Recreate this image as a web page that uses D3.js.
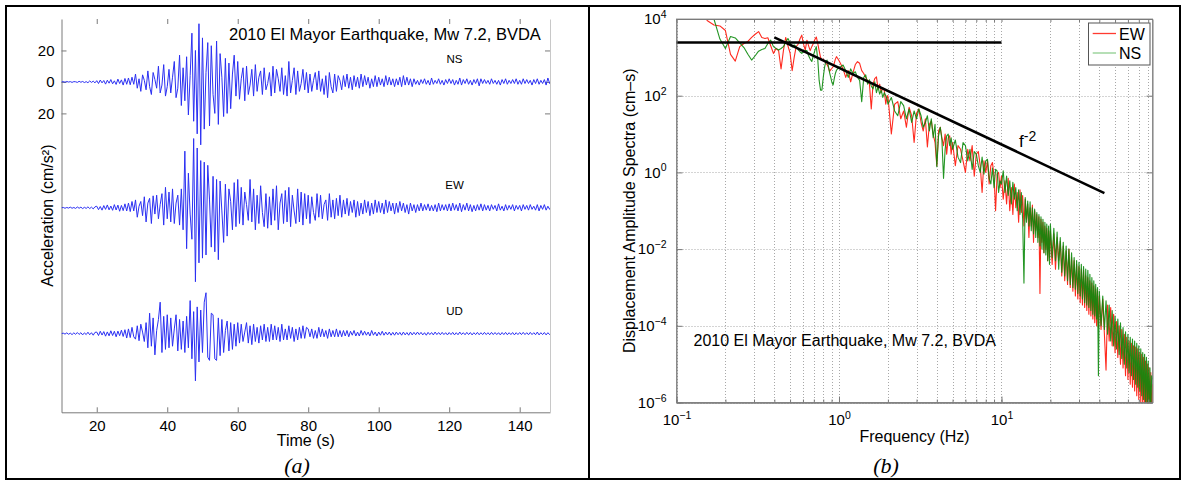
<!DOCTYPE html>
<html>
<head>
<meta charset="utf-8">
<script src="https://cdn.jsdelivr.net/npm/d3@7/dist/d3.min.js"></script>
<style>
  body { margin: 0; background: #fff; }
</style>
</head>
<body>
<div id="chart"></div>
<script>
const FONT = '"Liberation Sans", Arial, Helvetica, sans-serif';

// ---- panel (a): acceleration records, samples every 0.5 s from t = 10 s ----
const traceStart = 10;
const sampleStep = 0.5;
const channelNames = ['NS', 'EW', 'UD'];
const timeTicks = [20, 40, 60, 80, 100, 120, 140];
const accelTicks = [20, 0, -20];

const nsAccel = [
  0, 0.2, -0.2, 0.3, -0.1, 0.2, -0.3, 0.2, 0.1, -0.3, 0.4, -0.2, 0.3, -0.4, 0.2, -0.5, 0.6, -0.3, 0.5, -0.6,
  0.8, -1, 1.2, -0.6, 0.9, -1.4, 1.1, -0.8, 1.5, -1.2, 0.7, -1.6, 1.8, -1, 1.3, -2, 2.2, -1.5, 2.5, -1.8,
  3, -1.5, 5, -4, 2, -6, 4.5, 1, -5, 7, -3, -8, 6, 1.5, -4, 10, -7, -2, 11, -9,
  -3, 8, -7, 3, 13, -10, -4, 17, -15, 9, -12, 16, -21, 4, 31, -25, 20, -33, 37, -40,
  28, -30, 6, 25, -28, 23, -8, -20, 26, -27, 18, 3, -22, 15, -20, 12, -17, 5, 17, -9,
  13, -11, 2, 9, -12, 10, -8, -2, 8, -9, 11, -6, 3, 7, -8, 9, -5, -1, 6, -9,
  10, -7, 8, 2, -6, 9, -8, 4, -9, 13, -7, 1, 9, -8, 7, -6, -1, 8, -5, 6,
  -7, 5, -6, 1, 6, -5, 7, -6, 2, -8, 4, -10, 6, -3, -7, 5, -6, 4, 1, -5,
  4, -3, 5, -4, 3, -5, 4, -3, 3, -4, 5, -3, 4, -2, 3, -4, 2, -3, 4, -3,
  3, -2, 2, -3, 4, -2, 3, -2, 2, -3, 2, -2, 3, -3, 4, -2, 3, -2, 2, -3,
  2, -1.5, 1, -2, 1.5, -1, 2, -1.5, 1, -2, 2.5, -1.5, 1, -1, 2, -1.5, 1, -2, 1.5, -1,
  2, -1, 1.5, -2, 1, -1.5, 2.5, -2, 1.5, -1, 2, -1.5, 1, -2, 1.5, -1, 2, -2.5, 2, -1,
  1.5, -1, 1, -1.5, 2, -1, 1, -1.5, 1, -2, 1.5, -1, 2, -1.5, 1, -1, 1.5, -1, 2, -1.5,
  1, -1.5, 2, -1, 1.5, -1, 1, -2, 1.5, -1, 2, -1.5, 1, -1, 1.5, -2, 2.5, -1, 1.5, -1,
  0.5
];

const ewAccel = [
  0, 0.2, -0.3, 0.2, -0.2, 0.4, -0.3, 0.2, -0.4, 0.5, -0.3, 0.4, -0.5, 0.3, -0.4, 0.6, -0.5, 0.4, -0.7, 0.6,
  1, -1.2, 0.8, -1.5, 1.4, -1, 1.8, -1.3, 1.1, -1.6, 2, -1.4, 1.7, -2.2, 1.5, -1.8, 2.5, -2, 3, -2.4,
  4, -2, 5, -6, 1, 4, -5, 7, -9, 3, 6, -10, 7.6, -4, 8, -7, 2, 9, -11, 13,
  -7, 10, -9, 12, -10, 3, 8, -11, 12, -14, 36, -26, 22, -4, -20, 44, -47, 38, -35, 30,
  -32, 29, -30, 27, 5, -25, 20, -28, 18, -33, 17, -2, -22, 15, -18, 12, 4, -14, 16, -12,
  18, -10, 13, -11, 10, 2, -8, 18, -9, 12, -14, 8, -10, 14, -3, -12, 9, -13, 7, -11,
  12, -8, 14, -14, 3, 9, -10, 11, -9, 13, -12, 8, -2, -10, 12, -9, 10, -11, 9, -7,
  8, -10, 7, -3, -8, 9, -6, 8, -7, 2, 5, -8, 9, -6, 5, -7, 6, -5, 8, -6,
  5, -4, 6, -5, 4, -3, 5, -6, 4, -5, 3, -4, 5, -3, 4, -5, 3, -4, 5, -3,
  4, -3, 3, -4, 5, -3, 4, -2, 3, -4, 3, -3, 4, -2, 3, -3, 2, -4, 3, -2,
  2, -3, 2, -2, 3, -2, 2, -1.5, 2.5, -2, 1.5, -2, 2, -2.5, 3, -2, 2, -1.5, 2, -2,
  2.5, -2, 3, -1.5, 2, -2, 3, -2.5, 2, -1.5, 3, -2, 2, -2.5, 1.5, -2, 2, -1.5, 2.5, -2,
  2, -1.5, 1.5, -2, 2, -1, 1.5, -2, 2.5, -1.5, 1, -2, 2, -1.5, 1.5, -1, 2, -2, 1.5, -1,
  1.5, -2, 2, -1, 1.5, -1.5, 2, -1, 1, -1.5, 2, -2, 1.5, -1, 2, -1.5, 1, -1, 1.5, -1,
  0.5
];

const udAccel = [
  0, 0.3, -0.3, 0.5, -0.4, 0.3, -0.6, 0.5, -0.4, 0.7, -0.5, 0.6, -0.8, 0.5, -0.6, 0.9, -0.7, 0.6, -1, 0.8,
  1, -1.2, 1.5, -0.9, 1.3, -1.6, 1.1, -1.4, 1.8, -1.2, 1.5, -2, 1.6, -1.3, 2.2, -1.8, 2.5, -2.8, 3, -2.5,
  4, -2, -3.5, 5, -4.5, 6, 1, -5, 7, -9, 13, -8, 10, -13.5, 2, 9, 20, -12, 11, -10,
  12, -9, 10, -8, 3, 12, -11, 9, -10, 8, -12, 11, -9, 21, -16, 14, -30, 17, -18, 15,
  -12, 20, 26, -15, -17, 13, 12, -16, -17, 10, -14, 9, -12, 2, 8, -11, 7, -10, 6, -8,
  7, -6, 6, -5, 1, 7, -6, 5, -7, 6, -5, 4, -6, 5, -4, 6, -5, 4, -5, 6,
  -4, 5, -4, 4, -5, 6, -4, 3, -4, 5, -3, 4, -5, 3, -4, 4, -3, 5, -3, 4,
  3, -2, 3, -3, 2, -3, 4, -2, 3, -2, 2, -3, 3, -2, 2, -2, 3, -2, 2, -2,
  2, -1.5, 2, -2, 1.5, -1, 2, -1.5, 1, -1.5, 2, -1, 1.5, -1, 1, -1.5, 2, -1, 1, -1.5,
  1, -1, 1.5, -1, 1, -0.8, 1, -1, 0.8, -1, 1, -0.7, 0.8, -1, 1, -0.8, 0.7, -1, 1, -0.8,
  0.8, -0.7, 1, -0.6, 0.8, -0.8, 0.6, -1, 0.8, -0.6, 0.7, -0.8, 1, -0.6, 0.7, -0.7, 0.8, -0.6, 0.6, -0.8,
  0.7, -0.6, 0.8, -0.8, 0.6, -0.7, 1, -0.6, 0.6, -0.7, 0.8, -0.6, 0.7, -0.8, 0.6, -0.6, 0.8, -0.7, 0.6, -0.6,
  0.8, -0.6, 0.6, -0.7, 0.8, -0.6, 0.7, -0.6, 0.6, -0.8, 0.7, -0.6, 0.8, -0.7, 0.6, -0.6, 0.7, -0.8, 0.6, -0.6,
  0.7, -0.6, 0.8, -0.6, 0.6, -0.7, 0.8, -0.6, 0.6, -0.7, 1, -0.8, 0.6, -0.6, 0.7, -0.8, 0.6, -0.6, 0.8, -0.7,
  0.3
];

// ---- panel (b): displacement amplitude spectra ----
const specFreq = [
  0.12, 0.14, 0.155, 0.17, 0.185, 0.2, 0.215, 0.23, 0.245, 0.26,
  0.275, 0.29, 0.305, 0.32, 0.335, 0.35, 0.365, 0.38, 0.395, 0.41,
  0.425, 0.44, 0.455, 0.47, 0.485, 0.5, 0.515, 0.53, 0.545, 0.56,
  0.575, 0.59, 0.605, 0.62, 0.635, 0.65, 0.665, 0.68, 0.695, 0.71,
  0.725, 0.74, 0.755, 0.77, 0.785, 0.8, 0.815, 0.83, 0.845, 0.86,
  0.875, 0.89, 0.905, 0.92, 0.935, 0.95, 0.965, 0.98, 0.995,
  1.02, 1.06, 1.1, 1.14, 1.18, 1.22, 1.26, 1.3, 1.34, 1.38, 1.42, 1.46, 1.5,
  1.54, 1.58, 1.62, 1.66, 1.7, 1.74, 1.78, 1.82, 1.86, 1.9, 1.94, 1.98,
  2, 2.1, 2.2, 2.3, 2.4, 2.5, 2.6, 2.7, 2.8, 2.9, 3, 3.1, 3.2, 3.3, 3.4,
  3.5, 3.6, 3.7, 3.8, 3.9, 4, 4.1, 4.2, 4.3, 4.4, 4.5, 4.6, 4.7, 4.8, 4.9,
  5, 5.2, 5.4, 5.6, 5.8, 6, 6.2, 6.4, 6.6, 6.8, 7, 7.2, 7.4, 7.6, 7.8,
  8, 8.2, 8.4, 8.6, 8.8, 9, 9.2, 9.4, 9.6, 9.8,
  10, 10.25, 10.5, 10.75, 11, 11.25, 11.5, 11.75, 12, 12.25, 12.5, 12.75, 13, 13.25, 13.5, 13.75,
  14, 14.25, 14.5, 14.75, 15, 15.25, 15.5, 15.75, 16, 16.25, 16.5, 16.75, 17, 17.25, 17.5, 17.75,
  18, 18.25, 18.5, 18.75, 19, 19.25, 19.5, 19.75,
  20, 20.5, 21, 21.5, 22, 22.5, 23, 23.5, 24, 24.5, 25, 25.5, 26, 26.5, 27, 27.5, 28, 28.5, 29, 29.5,
  30, 30.5, 31, 31.5, 32, 32.5, 33, 33.5, 34, 34.5, 35, 35.5, 36, 36.5, 37, 37.5, 38, 38.5, 39, 39.5,
  40, 41, 42, 43, 44, 45, 46, 47, 48, 49, 50, 51, 52, 53, 54, 55, 56, 57, 58, 59,
  60, 61, 62, 63, 64, 65, 66, 67, 68, 69, 70, 71, 72, 73, 74, 75, 76, 77, 78, 79,
  80, 81, 82, 83, 84, 85
];

const ewSpec = [
  3e4, 1.5e4, 9000, 7000, 6600, 5000, 1200, 800, 1900, 2300,
  2600, 3300, 4000, 4700, 3300, 3100, 3250, 2000, 1270, 1700,
  1500, 500, 1500, 3300, 2000, 1300, 450, 1000, 1900, 2200,
  3000, 3800, 2200, 1550, 2800, 2000, 1500, 1900, 2300, 2900,
  3400, 2300, 1500, 1000, 850, 900, 780, 700, 650, 550,
  430, 480, 520, 570, 700, 900, 1040, 950, 850,
  700, 500, 300, 450, 230, 400, 650, 770, 700, 450, 380, 300, 250,
  200, 45, 200, 280, 310, 150, 200, 120, 160, 140, 60, 100,
  100, 10, 60, 70, 25, 40, 15, 50, 30, 6, 35, 45, 20, 12, 25,
  4.6, 18, 22, 10, 6, 1.5, 12, 15, 8, 5, 10, 3, 8, 9, 3,
  6, 1.5, 5, 4, 2, 1, 4, 2, 5, 0.8, 3, 3.5, 1.5, 0.3, 2,
  1, 2, 0.5, 1.5, 1.8, 0.8, 0.1, 0.9, 1, 0.4,
  0.8, 0.2, 0.6, 0.15, 0.7, 0.1, 0.4, 0.08, 0.5, 0.12, 0.3, 0.05, 0.35, 0.09, 0.25, 0.04,
  0.2, 0.06, 0.15, 0.02, 0.12, 0.04, 0.14, 0.015, 0.1, 0.03, 0.08, 0.02, 0.07, 0.0007, 0.06, 0.015,
  0.05, 0.008, 0.04, 0.01, 0.035, 0.005, 0.03, 0.006,
  0.03, 0.004, 0.025, 0.003, 0.02, 0.005, 0.016, 0.002, 0.012, 0.0015, 0.009, 0.0012, 0.01, 0.001, 0.006, 0.0008, 0.005, 0.0006, 0.004, 0.0005,
  0.0035, 0.0004, 0.003, 0.00035, 0.0028, 0.0003, 0.002, 0.00025, 0.0018, 0.0002, 0.0015, 0.00018, 0.0013, 0.00015, 0.0011, 0.00012, 0.0009, 0.0001, 0.0008, 0.00009,
  6e-4, 8e-5, 5e-4, 6e-5, 7e-6, 3.5e-4, 4e-5, 3e-4, 3e-5, 2e-4, 2e-5, 1.3e-4, 1.5e-5, 1e-4, 1e-5, 8e-5, 8e-6, 6e-5, 5e-6, 5e-5,
  4e-6, 4e-5, 3e-6, 3.5e-5, 2.5e-6, 3e-5, 2e-6, 2.8e-5, 1.5e-6, 2.5e-5, 1.2e-6, 2e-5, 1e-6, 1.8e-5, 8e-7, 1.5e-5, 7e-7, 1.2e-5, 6e-7, 1e-5,
  5e-7, 8e-6, 4e-7, 6e-6, 3e-7, 3e-6
];

const nsSpec = [
  8e4, 4e4, 2e4, 1e4, 3000, 1700, 3500, 3200, 2400, 1800,
  1200, 850, 1100, 1450, 1600, 1710, 2300, 2800, 1900, 1700,
  1550, 1700, 1900, 2500, 3100, 2400, 1850, 2100, 1900, 1600,
  1400, 1270, 1400, 1500, 1500, 1100, 900, 780, 1100, 1500,
  1900, 900, 250, 140, 140, 300, 550, 800, 850, 600,
  400, 300, 220, 190, 280, 380, 460, 500, 560,
  560, 630, 450, 300, 500, 380, 420, 300, 250, 70, 300, 350, 200,
  260, 180, 150, 230, 120, 170, 110, 140, 90, 120, 100, 80,
  60, 90, 40, 30, 70, 55, 25, 45, 20, 40, 25, 45, 30, 15, 20,
  30, 12, 25, 8, 18, 1.4, 9, 15, 7, 0.7, 4, 9, 10, 5, 8,
  4, 7, 2.5, 1.8, 6, 5, 2, 4, 1.2, 3.5, 3, 1.5, 1, 2.5, 0.9,
  2, 2.2, 0.7, 0.5, 1.3, 0.4, 1.2, 1.1, 0.3, 0.6,
  0.5, 1.1, 0.3, 0.8, 0.25, 0.6, 0.15, 0.55, 0.2, 0.4, 0.1, 0.35, 0.08, 0.3, 0.06, 0.0013,
  0.22, 0.05, 0.18, 0.04, 0.17, 0.03, 0.12, 0.025, 0.11, 0.02, 0.09, 0.015, 0.08, 0.012, 0.07, 0.01,
  0.06, 0.008, 0.05, 0.007, 0.045, 0.005, 0.04, 0.004,
  0.045, 0.006, 0.035, 0.005, 0.028, 0.003, 0.02, 0.0025, 0.015, 0.002, 0.012, 0.0015, 0.01, 0.0012, 0.008, 0.001, 0.006, 0.0009, 0.005, 0.0007,
  0.0045, 0.0006, 0.004, 0.0005, 0.0035, 0.0004, 0.003, 0.00035, 0.0028, 0.0003, 0.0022, 0.00025, 0.0018, 0.0002, 0.0015, 0.00018, 0.0012, 0.00015, 0.001, 0.000005,
  8e-4, 1e-4, 6e-4, 8e-5, 4.5e-4, 6e-5, 3.5e-4, 4e-5, 2.5e-4, 3e-5, 1.8e-4, 2.5e-5, 1.5e-4, 1.8e-5, 1.2e-4, 1.4e-5, 9e-5, 1e-5, 7e-5, 8e-6,
  6e-5, 6e-6, 5e-5, 5e-6, 4.5e-5, 4e-6, 4e-5, 3e-6, 3.5e-5, 2.5e-6, 3e-5, 2e-6, 2.5e-5, 1.5e-6, 2e-5, 1.2e-6, 1.8e-5, 1e-6, 1.5e-5, 8e-7,
  1.2e-5, 6e-7, 8e-6, 5e-7, 5e-6, 4e-6
];

const plateauLevel = 2450;          // flat low-frequency level (cm-s)
const plateauFreq = [0.1, 10];
const slopeLine = [[0.4, 3330], [43, 0.29]];   // f^-2 reference
const freqTicks = [0.1, 1, 10];
const ampTicks = [1e4, 1e2, 1, 1e-2, 1e-4, 1e-6];
const specNames = ['EW', 'NS'];

const svg = d3.select('#chart').append('svg')
  .attr('width', 1183)
  .attr('height', 483)
  .style('font-family', FONT);

// outer figure frame and divider
svg.append('rect')
  .attr('x', 6).attr('y', 6).attr('width', 1174).attr('height', 473)
  .attr('fill', 'none').attr('stroke', '#000').attr('stroke-width', 2);
svg.append('line')
  .attr('x1', 589).attr('x2', 589).attr('y1', 6).attr('y2', 479)
  .attr('stroke', '#000').attr('stroke-width', 2);

function styleAxis(g, size) {
  g.attr('font-family', FONT).attr('font-size', size);
  g.select('.domain').attr('stroke', '#7a7a7a');
  g.selectAll('.tick line').attr('stroke', '#7a7a7a');
  g.selectAll('.tick text').attr('fill', '#000');
}

function powerLabels(g) {
  g.selectAll('.tick text').each(function (d) {
    const e = Math.round(Math.log10(d));
    const t = d3.select(this).text('10');
    t.append('tspan')
      .attr('dy', '-0.6em')
      .attr('font-size', '10.5px')
      .text(e < 0 ? '\u2212' + (-e) : e);
  });
}

// ================= panel (a) =================
const xT = d3.scaleLinear().domain([10, 148.6]).range([61.5, 550]);
const yA = d3.scaleLinear().domain([-210, 40]).range([412.3, 19]);
const traceOffsets = [0, -80, -160];

const pa = svg.append('g');
pa.append('clipPath').attr('id', 'clipA').append('rect')
  .attr('x', xT.range()[0]).attr('y', yA.range()[1])
  .attr('width', xT.range()[1] - xT.range()[0])
  .attr('height', yA.range()[0] - yA.range()[1]);

pa.append('g').attr('transform', `translate(0,${yA.range()[0]})`)
  .call(d3.axisBottom(xT).tickValues(timeTicks).tickSizeInner(-5).tickSizeOuter(0).tickPadding(8))
  .call(styleAxis, 15);
pa.append('g').attr('transform', `translate(0,${yA.range()[1]})`)
  .call(d3.axisTop(xT).tickValues(timeTicks).tickSizeInner(-5).tickSizeOuter(0).tickFormat(''))
  .call(styleAxis, 15)
  .call(g => g.select('.domain').remove());
pa.append('g').attr('transform', `translate(${xT.range()[0]},0)`)
  .call(d3.axisLeft(yA).tickValues(accelTicks).tickSizeInner(-5).tickSizeOuter(0).tickPadding(7)
    .tickFormat(d => Math.abs(d)))
  .call(styleAxis, 15);
pa.append('g').attr('transform', `translate(${xT.range()[1]},0)`)
  .call(d3.axisRight(yA).tickValues(accelTicks).tickSizeInner(-5).tickSizeOuter(0).tickFormat(''))
  .call(styleAxis, 15)
  .call(g => g.select('.domain').attr('stroke', '#c8c8c8'));

[nsAccel, ewAccel, udAccel].forEach((vals, k) => {
  const line = d3.line()
    .x((d, i) => xT(traceStart + i * sampleStep))
    .y(d => yA(d + traceOffsets[k]));
  pa.append('path')
    .datum(vals)
    .attr('clip-path', 'url(#clipA)')
    .attr('fill', 'none')
    .attr('stroke', '#2b30f2')
    .attr('stroke-width', 1)
    .attr('stroke-linejoin', 'round')
    .attr('d', line);
  pa.append('text')
    .attr('x', xT(121.5))
    .attr('y', yA(traceOffsets[k] + 12))
    .attr('text-anchor', 'middle')
    .attr('font-size', '11.5px')
    .text(channelNames[k]);
});

pa.append('text')
  .attr('x', 229).attr('y', 40)
  .attr('font-size', '16.5px')
  .text('2010 El Mayor Earthquake, Mw 7.2, BVDA');

pa.append('text')
  .attr('x', (xT.range()[0] + xT.range()[1]) / 2).attr('y', 446)
  .attr('text-anchor', 'middle').attr('font-size', '16px')
  .text('Time (s)');

pa.append('text')
  .attr('transform', `translate(53,${(yA.range()[0] + yA.range()[1]) / 2}) rotate(-90)`)
  .attr('text-anchor', 'middle').attr('font-size', '16px')
  .text('Acceleration (cm/s\u00b2)');

pa.append('text')
  .attr('x', 297).attr('y', 472.5)
  .attr('text-anchor', 'middle')
  .attr('font-family', '"Liberation Serif", "Times New Roman", serif')
  .attr('font-style', 'italic').attr('font-size', '22px')
  .text('(a)');

// ================= panel (b) =================
const xF = d3.scaleLog().domain([0.1, 85]).range([676.5, 1152.5]);
const yS = d3.scaleLog().domain([1e-6, 1e4]).range([402.5, 19]);

const pb = svg.append('g');
pb.append('clipPath').attr('id', 'clipB').append('rect')
  .attr('x', xF.range()[0]).attr('y', yS.range()[1])
  .attr('width', xF.range()[1] - xF.range()[0])
  .attr('height', yS.range()[0] - yS.range()[1]);

// dotted grid
const grid = pb.append('g')
  .attr('stroke', '#a8a8a8').attr('stroke-width', 1).attr('stroke-dasharray', '1,2');
grid.selectAll('line.gx').data(xF.ticks()).enter().append('line')
  .attr('x1', d => Math.round(xF(d)) + 0.5).attr('x2', d => Math.round(xF(d)) + 0.5)
  .attr('y1', yS.range()[1]).attr('y2', yS.range()[0]);
grid.selectAll('line.gy').data(ampTicks).enter().append('line')
  .attr('y1', d => Math.round(yS(d)) + 0.5).attr('y2', d => Math.round(yS(d)) + 0.5)
  .attr('x1', xF.range()[0]).attr('x2', xF.range()[1]);

// box
pb.append('rect')
  .attr('x', xF.range()[0]).attr('y', yS.range()[1])
  .attr('width', xF.range()[1] - xF.range()[0])
  .attr('height', yS.range()[0] - yS.range()[1])
  .attr('fill', 'none').attr('stroke', '#9a9a9a');

// spectra
const specLine = d3.line().x(d => xF(d[0])).y(d => yS(d[1]));
const specColors = ['#ff2a1f', '#0b8a0b'];
[ewSpec, nsSpec].forEach((amps, k) => {
  pb.append('path')
    .datum(specFreq.map((f, i) => [f, amps[i]]))
    .attr('clip-path', 'url(#clipB)')
    .attr('fill', 'none')
    .attr('stroke', specColors[k])
    .attr('stroke-opacity', k === 1 ? 0.9 : 1)
    .attr('stroke-width', 1.1)
    .attr('stroke-linejoin', 'round')
    .attr('d', specLine);
});

// reference lines
pb.append('line')
  .attr('x1', xF(plateauFreq[0])).attr('x2', xF(plateauFreq[1]))
  .attr('y1', yS(plateauLevel)).attr('y2', yS(plateauLevel))
  .attr('stroke', '#000').attr('stroke-width', 2.5);
pb.append('path')
  .datum(slopeLine)
  .attr('fill', 'none').attr('stroke', '#000').attr('stroke-width', 2.5)
  .attr('d', specLine);

const fLabel = pb.append('text').attr('x', 1019).attr('y', 147).attr('font-size', '17px');
fLabel.append('tspan').text('f');
fLabel.append('tspan').attr('dy', '-0.45em').attr('font-size', '14px').text('-2');

// axes
pb.append('g').attr('transform', `translate(0,${yS.range()[0]})`)
  .call(d3.axisBottom(xF).tickValues(xF.ticks()).tickSizeInner(-3).tickSizeOuter(0).tickFormat(''))
  .call(styleAxis, 15);
pb.append('g').attr('transform', `translate(0,${yS.range()[0]})`)
  .call(d3.axisBottom(xF).tickValues(freqTicks).tickSizeInner(-6).tickSizeOuter(0).tickPadding(12))
  .call(styleAxis, 15)
  .call(powerLabels);
pb.append('g').attr('transform', `translate(0,${yS.range()[1]})`)
  .call(d3.axisTop(xF).tickValues(xF.ticks()).tickSizeInner(-3).tickSizeOuter(0).tickFormat(''))
  .call(styleAxis, 15);
pb.append('g').attr('transform', `translate(${xF.range()[0]},0)`)
  .call(d3.axisLeft(yS).tickValues(ampTicks).tickSizeInner(-6).tickSizeOuter(0).tickPadding(10))
  .call(styleAxis, 15)
  .call(powerLabels);
pb.append('g').attr('transform', `translate(${xF.range()[1]},0)`)
  .call(d3.axisRight(yS).tickValues(ampTicks).tickSizeInner(-6).tickSizeOuter(0).tickFormat(''))
  .call(styleAxis, 15);

// legend
const lg = pb.append('g');
lg.append('rect')
  .attr('x', 1088.5).attr('y', 23).attr('width', 61.5).attr('height', 42)
  .attr('fill', '#fff').attr('stroke', '#555');
const legendColors = ['#ff3b30', '#8fce8f'];
specNames.forEach((name, k) => {
  const y = 33.5 + k * 19.5;
  lg.append('line')
    .attr('x1', 1092.7).attr('x2', 1116).attr('y1', y).attr('y2', y)
    .attr('stroke', legendColors[k]).attr('stroke-width', 1.3);
  lg.append('text')
    .attr('x', 1119).attr('y', y + 6)
    .attr('font-size', '16px')
    .text(name);
});

pb.append('text')
  .attr('x', 693.5).attr('y', 346)
  .attr('font-size', '16px')
  .text('2010 El Mayor Earthquake, Mw 7.2, BVDA');

pb.append('text')
  .attr('x', (xF.range()[0] + xF.range()[1]) / 2).attr('y', 441.5)
  .attr('text-anchor', 'middle').attr('font-size', '16px')
  .text('Frequency (Hz)');

pb.append('text')
  .attr('transform', `translate(635,${(yS.range()[0] + yS.range()[1]) / 2}) rotate(-90)`)
  .attr('text-anchor', 'middle').attr('font-size', '16px')
  .text('Displacement Amplitude Spectra (cm\u2013s)');

pb.append('text')
  .attr('x', 886).attr('y', 472.5)
  .attr('text-anchor', 'middle')
  .attr('font-family', '"Liberation Serif", "Times New Roman", serif')
  .attr('font-style', 'italic').attr('font-size', '22px')
  .text('(b)');
</script>
</body>
</html>
